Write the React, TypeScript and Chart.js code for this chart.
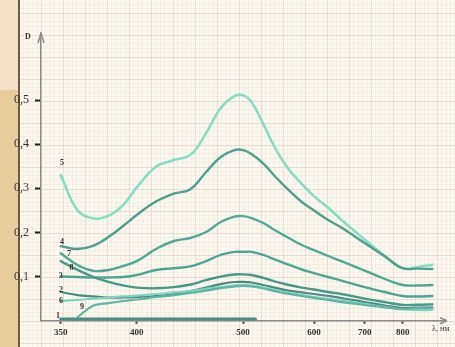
import React, { useEffect, useRef } from "react";
import { Chart, registerables } from "chart.js";

Chart.register(...registerables);

// Wavelengths (nm) at which curves were read
const wavelengths = [350, 360, 370, 380, 390, 400, 415, 430, 445, 460, 475, 490, 500, 510, 525, 540, 560, 580, 600, 625, 650, 700, 750, 800, 850, 900];

const curve5 = [0.33, 0.25, 0.2315, 0.238, 0.262, 0.302, 0.349, 0.364, 0.376, 0.425, 0.482, 0.509, 0.511, 0.4955, 0.4456, 0.3935, 0.343, 0.31, 0.282, 0.256, 0.229, 0.184, 0.1466, 0.119, 0.1217, 0.127];
const curve4 = [0.169, 0.1624, 0.17, 0.19, 0.2145, 0.2395, 0.27, 0.288, 0.298, 0.337, 0.371, 0.3867, 0.3867, 0.3777, 0.356, 0.328, 0.296, 0.269, 0.2497, 0.228, 0.211, 0.176, 0.1454, 0.119, 0.118, 0.117];
const curve7 = [0.153, 0.126, 0.113, 0.115, 0.124, 0.135, 0.1625, 0.1806, 0.1874, 0.201, 0.2236, 0.236, 0.237, 0.2327, 0.2213, 0.2055, 0.1874, 0.1715, 0.16, 0.1466, 0.135, 0.1137, 0.0945, 0.081, 0.0797, 0.081];
const curve3 = [0.1, 0.099, 0.098, 0.098, 0.099, 0.1035, 0.115, 0.119, 0.123, 0.135, 0.149, 0.156, 0.156, 0.156, 0.149, 0.139, 0.127, 0.116, 0.108, 0.099, 0.091, 0.076, 0.065, 0.056, 0.055, 0.056];
const curve8 = [0.135, 0.115, 0.099, 0.088, 0.08, 0.075, 0.0734, 0.076, 0.082, 0.092, 0.1, 0.1047, 0.105, 0.1035, 0.097, 0.089, 0.081, 0.075, 0.0707, 0.065, 0.0605, 0.05, 0.042, 0.0356, 0.036, 0.037];
const curve2 = [0.065, 0.058, 0.055, 0.0526, 0.0526, 0.0537, 0.056, 0.0605, 0.067, 0.075, 0.083, 0.0877, 0.088, 0.0865, 0.081, 0.075, 0.068, 0.064, 0.0605, 0.056, 0.0514, 0.042, 0.0344, 0.0288, 0.0295, 0.0295];
const curve6 = [0.0446, 0.047, 0.05, 0.0526, 0.055, 0.057, 0.0605, 0.064, 0.067, 0.072, 0.076, 0.08, 0.081, 0.08, 0.075, 0.0695, 0.063, 0.058, 0.0537, 0.049, 0.0458, 0.038, 0.031, 0.0254, 0.0242, 0.0242];
const curve9 = [null, 0.008, 0.0344, 0.04, 0.0446, 0.048, 0.0537, 0.058, 0.063, 0.068, 0.074, 0.0775, 0.0786, 0.0775, 0.073, 0.067, 0.0605, 0.056, 0.0514, 0.047, 0.042, 0.0356, 0.03, 0.0265, 0.0288, 0.03];
const curve1Wavelengths = [350, 515];
const curve1 = [0.004, 0.004];

// Curve labels: name, anchor wavelength, anchor D
const curveNames = ["5", "4", "7", "8", "3", "2", "6", "9", "1"];
const labelWavelengths = [350.7, 350.7, 354.9, 356.4, 350, 350.2, 350.2, 362.7, 348.4];
const labelValues = [0.357, 0.178, 0.151, 0.119, 0.102, 0.0695, 0.0458, 0.031, 0.0106];

// Axis ticks
const xTickWavelengths = [350, 400, 500, 600, 700, 800];
const xTickLabels = ["350", "400", "500", "600", "700", "800"];
const yTickValues = [0.1, 0.2, 0.3, 0.4, 0.5];
const yTickLabels = ["0,1", "0,2", "0,3", "0,4", "0,5"];

const toU = (w: number) => 1000 / w;

const paperPlugin = {
  id: "paper",
  beforeDraw(chart: any) {
    const { ctx, width, height } = chart;
    ctx.save();
    ctx.fillStyle = "#fbf9ef";
    ctx.fillRect(0, 0, width, height);
    const ox = 41;
    const oy = 320.7;
    const minor = 4.4;
    ctx.lineWidth = 1;
    for (let i = -20; i < 200; i++) {
      const x = ox + i * minor;
      if (x < 19) continue;
      if (x > width) break;
      const major = ((i % 5) + 5) % 5 === 0;
      ctx.strokeStyle = major ? "rgba(205,180,165,0.38)" : "rgba(230,205,195,0.22)";
      ctx.beginPath();
      ctx.moveTo(Math.round(x) + 0.5, 0);
      ctx.lineTo(Math.round(x) + 0.5, height);
      ctx.stroke();
    }
    for (let i = -100; i < 100; i++) {
      const y = oy + i * minor;
      if (y < 0) continue;
      if (y > height) break;
      const major = ((i % 5) + 5) % 5 === 0;
      ctx.strokeStyle = major ? "rgba(205,180,165,0.38)" : "rgba(230,205,195,0.22)";
      ctx.beginPath();
      ctx.moveTo(19, Math.round(y) + 0.5);
      ctx.lineTo(width, Math.round(y) + 0.5);
      ctx.stroke();
    }
    // scanned binding strip
    ctx.fillStyle = "#f3e2c8";
    ctx.fillRect(0, 0, 19, 90);
    ctx.fillStyle = "#e7cd9c";
    ctx.fillRect(0, 90, 19, height - 90);
    ctx.fillStyle = "#6b5b4a";
    ctx.fillRect(18, 0, 2, height);
    ctx.restore();
  },
};

const annotPlugin = {
  id: "annot",
  afterDraw(chart: any) {
    const { ctx, chartArea, scales } = chart;
    const xs = scales.x;
    const ys = scales.y;
    ctx.save();
    // axis arrows
    ctx.strokeStyle = "#8c8c8c";
    ctx.lineWidth = 1.5;
    ctx.beginPath();
    ctx.moveTo(chartArea.left, chartArea.top);
    ctx.lineTo(chartArea.left - 3, chartArea.top + 10);
    ctx.moveTo(chartArea.left, chartArea.top);
    ctx.lineTo(chartArea.left + 3, chartArea.top + 10);
    ctx.moveTo(chartArea.right, chartArea.bottom);
    ctx.lineTo(chartArea.right + 7, chartArea.bottom);
    ctx.moveTo(chartArea.right + 7, chartArea.bottom);
    ctx.lineTo(chartArea.right, chartArea.bottom - 3);
    ctx.moveTo(chartArea.right + 7, chartArea.bottom);
    ctx.lineTo(chartArea.right, chartArea.bottom + 3);
    ctx.stroke();
    // axis titles
    ctx.fillStyle = "#333";
    ctx.font = "bold 8px 'Liberation Serif'";
    ctx.textAlign = "center";
    ctx.textBaseline = "middle";
    ctx.fillText("D", chartArea.left - 13, chartArea.top + 4);
    ctx.font = "8px 'Liberation Serif'";
    ctx.textAlign = "left";
    ctx.fillText("λ, нм", chartArea.right - 8, chartArea.bottom + 8);
    // curve labels
    ctx.font = "bold 8px 'Liberation Serif'";
    ctx.textAlign = "center";
    curveNames.forEach((n, i) => {
      const x = xs.getPixelForValue(toU(labelWavelengths[i]));
      const y = ys.getPixelForValue(labelValues[i]);
      ctx.fillText(n, x, y);
    });
    ctx.restore();
  },
};

const series = [
  { name: "1", w: curve1Wavelengths, d: curve1, color: "#4b8c84", width: 3 },
  { name: "9", w: wavelengths, d: curve9, color: "#5cb5a5", width: 2.2 },
  { name: "6", w: wavelengths, d: curve6, color: "#7dd3c1", width: 2.2 },
  { name: "2", w: wavelengths, d: curve2, color: "#4a8c82", width: 2.2 },
  { name: "8", w: wavelengths, d: curve8, color: "#45998a", width: 2.4 },
  { name: "3", w: wavelengths, d: curve3, color: "#4ea595", width: 2.4 },
  { name: "7", w: wavelengths, d: curve7, color: "#52a898", width: 2.4 },
  { name: "4", w: wavelengths, d: curve4, color: "#4e9f90", width: 2.4 },
  { name: "5", w: wavelengths, d: curve5, color: "#86dcc4", width: 2.6 },
];

export default function App() {
  const canvasRef = useRef<HTMLCanvasElement | null>(null);

  useEffect(() => {
    if (!canvasRef.current) return;
    const datasets = series.map((s) => ({
      label: s.name,
      data: s.w
        .map((w, i) => (s.d[i] === null || s.d[i] === undefined ? null : { x: toU(w), y: s.d[i] as number }))
        .filter((p) => p !== null),
      borderColor: s.color,
      borderWidth: s.width,
      pointRadius: 0,
      fill: false,
      tension: 0.4,
      borderCapStyle: "round" as const,
      borderJoinStyle: "round" as const,
    }));

    const chart = new Chart(canvasRef.current, {
      type: "line",
      data: { datasets: datasets as any },
      options: {
        animation: false,
        responsive: false,
        devicePixelRatio: 1,
        layout: { padding: { left: 0, right: 15, top: 33, bottom: 0 } },
        plugins: { legend: { display: false }, tooltip: { enabled: false } },
        scales: {
          x: {
            type: "linear",
            reverse: true,
            min: 1.0747,
            max: 2.9497,
            afterFit(scale: any) {
              scale.height = 26.3;
            },
            afterBuildTicks(scale: any) {
              scale.ticks = xTickWavelengths.map((w) => ({ value: toU(w) }));
            },
            ticks: {
              autoSkip: false,
              maxRotation: 0,
              padding: 4,
              color: "#333",
              font: { family: "'Liberation Serif'", size: 9, weight: "bold" },
              callback: (_v: any, i: number) => xTickLabels[i],
            },
            grid: { drawOnChartArea: false, drawTicks: true, tickLength: 3, tickWidth: 2, tickColor: "#333" },
            border: { display: true, color: "#8c8c8c", width: 1.5 },
          },
          y: {
            type: "linear",
            min: 0,
            max: 0.652,
            afterFit(scale: any) {
              scale.width = 41;
            },
            afterBuildTicks(scale: any) {
              scale.ticks = yTickValues.map((v) => ({ value: v }));
            },
            ticks: {
              padding: 6,
              color: "#333",
              font: { family: "'Liberation Serif'", size: 12 },
              callback: (_v: any, i: number) => yTickLabels[i],
            },
            grid: { drawOnChartArea: false, drawTicks: true, tickLength: 6, tickWidth: 2, tickColor: "#222" },
            border: { display: true, color: "#8c8c8c", width: 1.5 },
          },
        },
      } as any,
      plugins: [paperPlugin, annotPlugin],
    });
    return () => chart.destroy();
  }, []);

  return (
    <div style={{ position: "absolute", left: 0, top: 0, width: 455, height: 347 }}>
      <canvas ref={canvasRef} width={455} height={347} style={{ display: "block" }} />
    </div>
  );
}
